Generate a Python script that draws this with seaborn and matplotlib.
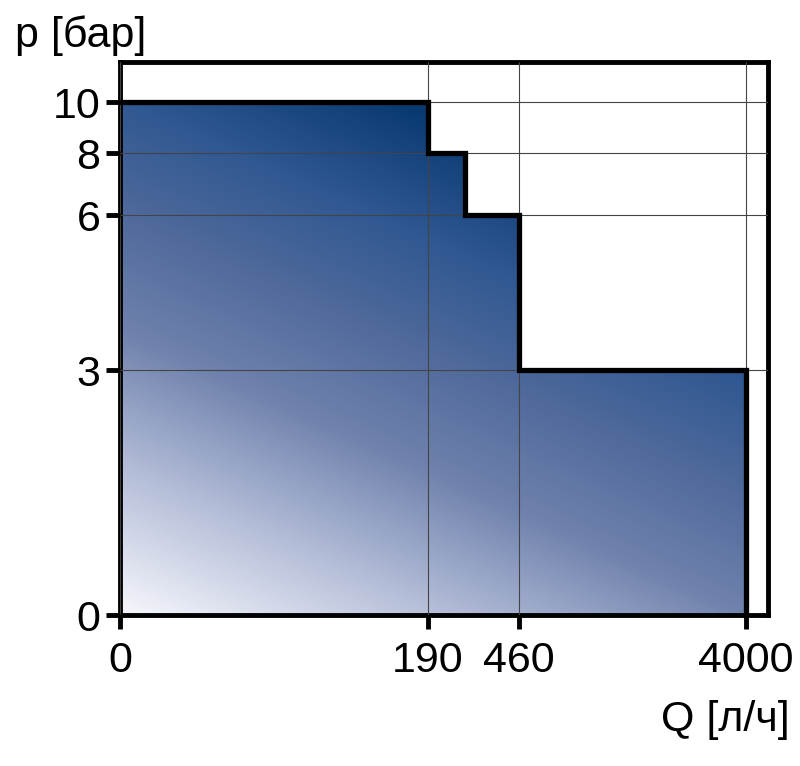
import numpy as np
import matplotlib
matplotlib.use('Agg')
import matplotlib.pyplot as plt
import seaborn as sns
from matplotlib.colors import LinearSegmentedColormap

# pump curve: max pressure per flow range
flow = [0, 190, 300, 460, 4000]
pressure = [10, 8, 6, 3, 0]
x_ticks = [0, 190, 460, 4000]
y_ticks = [0, 3, 6, 8, 10]

sns.set_style('white')
plt.rcParams['font.family'] = ['Liberation Sans', 'DejaVu Sans']

# non-uniform axes, built as piecewise-linear scales
x_knots = [-4000, 0, 190, 460, 4000, 8000]
x_pos = [-6484, 0, 308, 399, 626, 883]
y_knots = [-10, 0, 3, 6, 8, 10, 20]
y_pos = [-817, 0, 245, 400, 462, 513, 768]

def fwd_x(v):
    return np.interp(v, x_knots, x_pos)

def inv_x(v):
    return np.interp(v, x_pos, x_knots)

def fwd_y(v):
    return np.interp(v, y_knots, y_pos)

def inv_y(v):
    return np.interp(v, y_pos, y_knots)

fig = plt.figure(figsize=(8, 7.66), dpi=100)
ax = fig.add_axes([0.15, 0.197, 0.81, 0.722])
ax.set_xscale('function', functions=(fwd_x, inv_x))
ax.set_yscale('function', functions=(fwd_y, inv_y))

# diagonal gradient, clipped to the area under the curve
w, h = 648, 553
gx, gy = np.meshgrid(np.arange(w), np.arange(h))
t = np.clip((273 * gx + 605 * gy) / 481263, 0, 1)
cmap = LinearSegmentedColormap.from_list('blues', [
    (0.0, '#f6f7fc'), (0.18, '#b6bfd9'), (0.355, '#7082ad'), (0.517, '#4d689a'),
    (0.645, '#305892'), (0.8, '#0a3a72'), (1.0, '#003366')])
im = ax.imshow(t, origin='lower', extent=(0, 1, 0, 1), transform=ax.transAxes,
               cmap=cmap, vmin=0, vmax=1, aspect='auto', zorder=1)
poly = ax.fill_between(flow, pressure, step='post', color='none', lw=0)
im.set_clip_path(poly.get_paths()[0], ax.transData)

sns.lineplot(x=flow, y=pressure, drawstyle='steps-post', color='black', lw=3.8,
             solid_joinstyle='miter', solid_capstyle='projecting', ax=ax, zorder=4)

ax.set_xlim(0, inv_x(648))
ax.set_ylim(0, inv_y(553))
ax.set_xticks(x_ticks)
ax.set_yticks(y_ticks)
ax.set_xticklabels([str(v) for v in x_ticks])
ax.set_yticklabels([str(v) for v in y_ticks])
ax.set_axisbelow(False)
ax.grid(True, color='#444444', lw=0.8)
ax.tick_params(direction='out', length=10, width=3.5, labelsize=31, pad=3,
               bottom=True, left=True, color='black', labelcolor='black')
ax.tick_params(axis='x', pad=9)
ax.tick_params(axis='y', pad=4)
for s in ax.spines.values():
    s.set_color('black')
    s.set_linewidth(3.5)
ax.set_xlabel('')
ax.set_ylabel('')

fig.text(15 / 800, 1 - 36 / 766, 'p [бар]', ha='left', va='center', size=31, color='black')
fig.text(790 / 800, 1 - 720 / 766, 'Q [л/ч]', ha='right', va='center', size=31, color='black')

plt.savefig('out.png', dpi=100)
